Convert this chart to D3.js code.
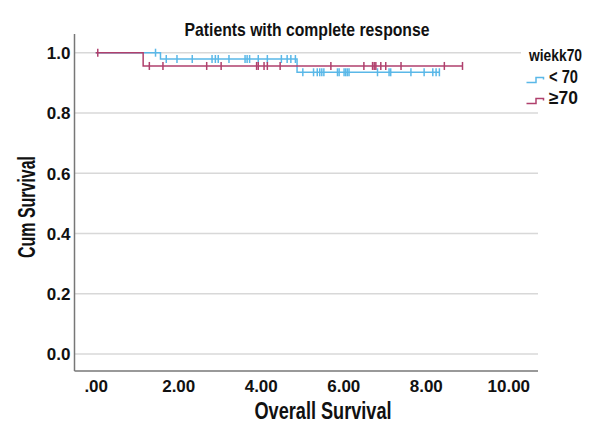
<!DOCTYPE html>
<html>
<head>
<meta charset="utf-8">
<script src="https://cdn.jsdelivr.net/npm/d3@7"></script>
<style>
  body { margin: 0; background: #fff; }
  svg text { font-family: "Liberation Sans", Arial, sans-serif; font-weight: bold; fill: #111; }
</style>
</head>
<body>
<div id="chart"></div>
<script>
const width = 590;
const height = 428;

// data
const groups = ["< 70", "\u226570"];
const colors = ["#5ab8e8", "#b0406d"];

// step points [time, cum survival] per group
const under70Steps = [[0, 1.0], [1.57, 0.979], [4.88, 0.935]];
const under70End = 8.33;
const under70Censored = [1.45, 1.71, 1.97, 2.34, 2.82, 2.90, 2.97, 3.23, 3.62, 3.67, 3.73, 3.94, 4.16,
  4.50, 4.64, 4.73, 4.84, 5.02, 5.28, 5.37, 5.43, 5.48, 5.53, 5.86, 5.90, 6.02, 6.06, 6.10, 6.14,
  6.83, 7.11, 7.15, 7.64, 7.96, 8.17, 8.25, 8.33];

const over70Steps = [[0, 1.0], [1.15, 0.956]];
const over70End = 8.89;
const over70Censored = [0.05, 1.30, 1.63, 2.69, 3.04, 3.90, 3.94, 4.08, 4.16, 4.47, 5.70, 6.50,
  6.71, 6.75, 6.79, 6.91, 7.03, 7.40, 8.45, 8.89];

const xTicks = [0, 2, 4, 6, 8, 10];
const yTicks = [0, 0.2, 0.4, 0.6, 0.8, 1.0];

const series = [
  { name: groups[0], steps: under70Steps, end: under70End, censored: under70Censored, color: colors[0] },
  { name: groups[1], steps: over70Steps, end: over70End, censored: over70Censored, color: colors[1] }
];

const plotLeft = 74.5, plotRight = 538, plotTop = 34, plotBottom = 371;

const x = d3.scaleLinear().domain([0, 10]).range([95.7, 508.3]);
const y = d3.scaleLinear().domain([0, 1]).range([354, 52.7]);

const svg = d3.select("#chart")
    .append("svg")
    .attr("width", width)
    .attr("height", height);

// gridlines
svg.append("g")
    .selectAll("line")
    .data(yTicks)
    .enter()
    .append("line")
    .attr("x1", plotLeft)
    .attr("x2", plotRight)
    .attr("y1", d => y(d))
    .attr("y2", d => y(d))
    .attr("stroke", "#d8d8d8")
    .attr("stroke-width", 1.5);

// y axis
const yAxis = d3.axisLeft(y).tickValues(yTicks).tickFormat(d3.format(".1f")).tickSize(0).tickPadding(4);
const gy = svg.append("g").attr("transform", `translate(${plotLeft},0)`).call(yAxis);
gy.select(".domain").remove();
gy.selectAll("text").style("font-size", "17px").attr("dy", "0.35em");

// x axis
const xAxis = d3.axisBottom(x).tickValues(xTicks)
    .tickFormat(d => d3.format(".2f")(d).replace(/^0/, ""))
    .tickSize(0).tickPadding(9);
const gx = svg.append("g").attr("transform", `translate(0,${plotBottom})`).call(xAxis);
gx.select(".domain").remove();
gx.selectAll("text").style("font-size", "17px");

// axis lines
svg.append("line")
    .attr("x1", plotLeft).attr("x2", plotLeft)
    .attr("y1", plotTop).attr("y2", plotBottom)
    .attr("stroke", "#777").attr("stroke-width", 1.5);
svg.append("line")
    .attr("x1", plotLeft).attr("x2", plotRight)
    .attr("y1", plotBottom).attr("y2", plotBottom)
    .attr("stroke", "#777").attr("stroke-width", 1.5);

// survival value at time t
function survAt(steps, t) {
    let s = steps[0][1];
    steps.forEach(p => { if (p[0] <= t) s = p[1]; });
    return s;
}

const line = d3.line()
    .x(d => x(d[0]))
    .y(d => y(d[1]))
    .curve(d3.curveStepAfter);

series.forEach(sr => {
    const pts = sr.steps.concat([[sr.end, sr.steps[sr.steps.length - 1][1]]]);
    const g = svg.append("g");
    g.append("path")
        .attr("d", line(pts))
        .attr("fill", "none")
        .attr("stroke", sr.color)
        .attr("stroke-width", 1.5);
    g.selectAll("line")
        .data(sr.censored)
        .enter()
        .append("line")
        .attr("x1", d => x(d))
        .attr("x2", d => x(d))
        .attr("y1", d => y(survAt(sr.steps, d)) - 4)
        .attr("y2", d => y(survAt(sr.steps, d)) + 4)
        .attr("stroke", sr.color)
        .attr("stroke-width", 1.5);
});

// title (condensed face, squeezed to the width seen in the picture)
svg.append("text")
    .attr("x", 307)
    .attr("y", 36)
    .attr("text-anchor", "middle")
    .attr("textLength", 245)
    .attr("lengthAdjust", "spacingAndGlyphs")
    .style("font-size", "19px")
    .text("Patients with complete response");

// axis titles
svg.append("text")
    .attr("x", 323)
    .attr("y", 419)
    .attr("text-anchor", "middle")
    .attr("textLength", 137)
    .attr("lengthAdjust", "spacingAndGlyphs")
    .style("font-size", "23px")
    .text("Overall Survival");

svg.append("text")
    .attr("transform", "translate(35,207) rotate(-90)")
    .attr("text-anchor", "middle")
    .attr("textLength", 102)
    .attr("lengthAdjust", "spacingAndGlyphs")
    .style("font-size", "23px")
    .text("Cum Survival");

// legend
const legend = svg.append("g");
legend.append("rect")
    .attr("x", 521).attr("y", 40)
    .attr("width", 69).attr("height", 70)
    .attr("fill", "#fff");
legend.append("text")
    .attr("x", 582).attr("y", 61)
    .attr("text-anchor", "end")
    .attr("textLength", 53)
    .attr("lengthAdjust", "spacingAndGlyphs")
    .style("font-size", "16px")
    .text("wiekk70");

series.forEach((sr, i) => {
    const yy = 82.5 + i * 21;
    legend.append("path")
        .attr("d", `M526.5,${yy}H536V${yy - 5}H543.5V${yy - 3}`)
        .attr("fill", "none")
        .attr("stroke", sr.color)
        .attr("stroke-width", 1.5);
    legend.append("text")
        .attr("x", 549).attr("y", yy)
        .attr("textLength", 29)
        .attr("lengthAdjust", "spacingAndGlyphs")
        .style("font-size", "18px")
        .text(sr.name);
});
</script>
</body>
</html>
